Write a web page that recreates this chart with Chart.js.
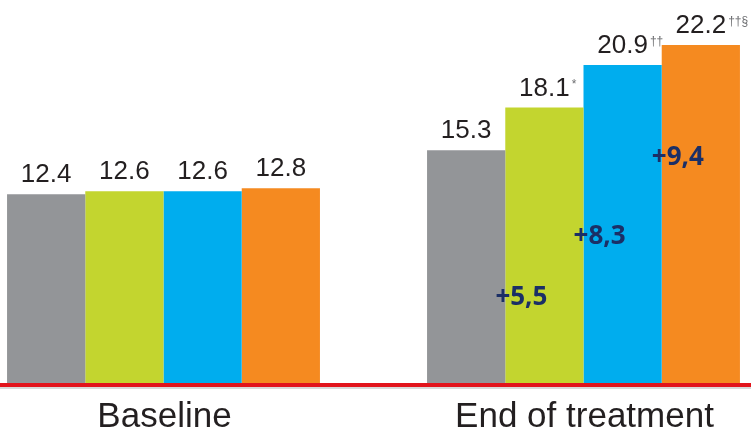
<!DOCTYPE html>
<html>
<head>
<meta charset="utf-8">
<script src="https://cdn.jsdelivr.net/npm/chart.js@4.4.1/dist/chart.umd.min.js"></script>
<style>
  html, body { margin: 0; padding: 0; background: #fff; }
  #wrap { width: 751px; height: 433px; }
</style>
</head>
<body>
<div id="wrap"><canvas id="myChart"></canvas></div>
<script>
// Categories and the four arms' mean values
const categories = ['Baseline', 'End of treatment'];
const arm1 = [12.4, 15.3];
const arm2 = [12.6, 18.1];
const arm3 = [12.6, 20.9];
const arm4 = [12.8, 22.2];
// Significance marks printed after the end-of-treatment values
const endMarks = ['', '*', '\u2020\u2020', '\u2020\u2020\u00a7'];

const armColors = ['#939598', '#c3d52f', '#00adee', '#f58a20'];

function makeSet(label, values, color, marks) {
  return {
    label: label,
    data: values,
    backgroundColor: color,
    borderWidth: 0,
    clip: false,
    marks: marks
  };
}

// Value labels above bars, change-from-baseline labels, red base line,
// and the category names under it
const barLabels = {
  id: 'barLabels',
  afterDatasetsDraw(chart, args, opts) {
    const ctx = chart.ctx;
    const xScale = chart.scales.x;
    const yScale = chart.scales.y;
    const zero = yScale.getPixelForValue(0);

    // red base line running across the full width
    ctx.save();
    ctx.fillStyle = '#d9d9d9';
    ctx.fillRect(0, zero + 4, chart.width, 2);
    ctx.fillStyle = '#e2141c';
    ctx.fillRect(0, zero, chart.width, 4);
    ctx.restore();

    // category names
    ctx.save();
    ctx.font = '35px "Liberation Sans", Arial, sans-serif';
    ctx.fillStyle = '#231f20';
    ctx.textAlign = 'center';
    ctx.textBaseline = 'alphabetic';
    categories.forEach((name, i) => {
      ctx.fillText(name, xScale.getPixelForValue(i) + 1, zero + 44);
    });
    ctx.restore();

    chart.data.datasets.forEach((ds, i) => {
      const meta = chart.getDatasetMeta(i);
      meta.data.forEach((bar, j) => {
        const text = ds.data[j].toFixed(1);
        ctx.save();
        ctx.font = '26px "Liberation Sans", Arial, sans-serif';
        ctx.fillStyle = '#231f20';
        ctx.textAlign = 'center';
        ctx.textBaseline = 'alphabetic';
        const ty = bar.y - 12;
        ctx.fillText(text, bar.x, ty);
        const mark = j === 1 ? ds.marks : '';
        if (mark) {
          const w = ctx.measureText(text).width;
          ctx.font = '12px "Liberation Sans", Arial, sans-serif';
          ctx.fillStyle = '#6d6e71';
          ctx.textAlign = 'left';
          ctx.fillText(mark, bar.x + w / 2 + 2, ty - 8);
        }
        ctx.restore();
      });
    });

    // change from baseline, for the treated arms
    const base = chart.data.datasets;
    opts.anchors.forEach((anchor, k) => {
      const i = k + 1;
      const ds = base[i];
      const bar = chart.getDatasetMeta(i).data[1];
      const diff = (ds.data[1] - ds.data[0]).toFixed(1).replace('.', ',');
      ctx.save();
      ctx.font = 'bold 26px "Open Sans", "Noto Sans", sans-serif';
      ctx.fillStyle = '#1b2f66';
      ctx.textAlign = 'center';
      ctx.textBaseline = 'middle';
      ctx.fillText('+' + diff, bar.x - 23, yScale.getPixelForValue(anchor));
      ctx.restore();
    });
  }
};

var ctx = document.getElementById('myChart').getContext('2d');

var chart = new Chart(ctx, {
  type: 'bar',
  data: {
    labels: categories,
    datasets: [
      makeSet('Arm 1', arm1, armColors[0], endMarks[0]),
      makeSet('Arm 2', arm2, armColors[1], endMarks[1]),
      makeSet('Arm 3', arm3, armColors[2], endMarks[2]),
      makeSet('Arm 4', arm4, armColors[3], endMarks[3])
    ]
  },
  options: {
    responsive: true,
    maintainAspectRatio: false,
    animation: false,
    categoryPercentage: 0.745,
    barPercentage: 1.0,
    layout: {
      padding: { left: 163.5, right: 167.5, top: 2.5, bottom: 50 }
    },
    plugins: {
      legend: { display: false },
      tooltip: { enabled: false },
      barLabels: { anchors: [5.6, 9.6, 14.8] }
    },
    scales: {
      x: {
        display: false,
        offset: false
      },
      y: {
        display: false,
        min: 0,
        max: 25
      }
    }
  },
  plugins: [barLabels]
});
</script>
</body>
</html>
